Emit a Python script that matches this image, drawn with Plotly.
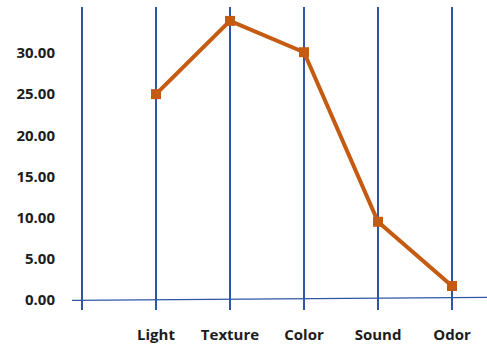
import plotly.graph_objects as go

# Sensory attribute scores
categories = ["Light", "Texture", "Color", "Sound", "Odor"]
scores = [25.0, 33.9, 30.1, 9.5, 1.7]
positions = [1, 2, 3, 4, 5]
y_ticks = [0, 5, 10, 15, 20, 25, 30]

line_color = "#C55A11"
grid_color = "#2F56A6"
font_family = "Open Sans"
text_color = "#1C1C1C"

fig = go.Figure()
fig.add_trace(go.Scatter(
    x=positions,
    y=scores,
    mode="lines+markers",
    line=dict(color=line_color, width=4),
    marker=dict(symbol="square", size=10, color=line_color),
    showlegend=False,
    hoverinfo="skip",
))

# Slightly sloped baseline across the plot
fig.add_shape(type="line", xref="paper", yref="y",
              x0=0, x1=1, y0=-0.04, y1=0.33,
              line=dict(color=grid_color, width=1.3))

fig.update_layout(
    width=487, height=349,
    margin=dict(l=72, r=0, t=7, b=39),
    paper_bgcolor="white",
    plot_bgcolor="white",
    font=dict(family=font_family, size=15, color=text_color),
    xaxis=dict(
        range=[-0.135, 5.473],
        tickvals=[0] + positions,
        ticktext=[""] + categories,
        showgrid=True, gridcolor=grid_color, gridwidth=1.5,
        zeroline=False, showline=False, ticks="",
        tickfont=dict(family=font_family, size=15, color=text_color, weight="bold"),
        ticklabelstandoff=14,
    ),
    yaxis=dict(
        range=[-1.215, 35.59],
        tickvals=y_ticks,
        tickformat=".2f",
        showgrid=False, zeroline=False, showline=False, ticks="",
        tickfont=dict(family=font_family, size=15, color=text_color, weight="bold"),
        ticklabelstandoff=16,
    ),
)

fig.write_html("out.html")
